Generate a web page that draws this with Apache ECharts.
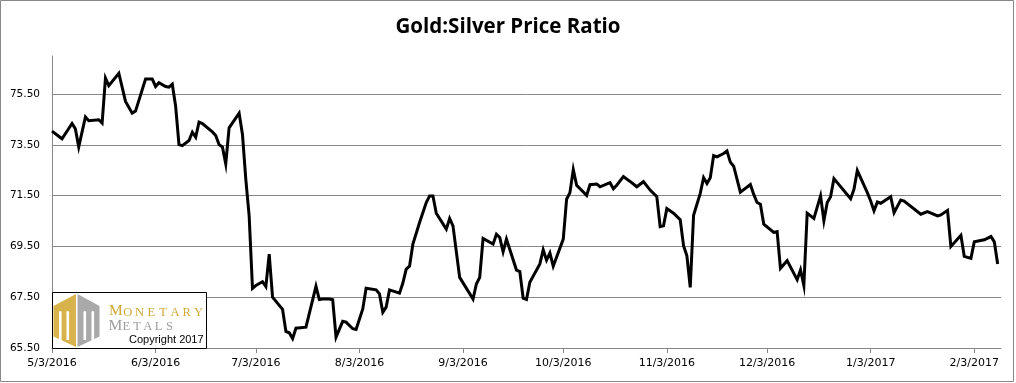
<!DOCTYPE html>
<html>
<head>
<meta charset="utf-8">
<script src="https://cdn.jsdelivr.net/npm/echarts@6/dist/echarts.min.js"></script>
<style>
html,body{margin:0;padding:0;background:#fff;}
#chart{width:1016px;height:383px;}
</style>
</head>
<body>
<div id="chart"></div>
<script>
// ---- data ----
const chartTitle = 'Gold:Silver Price Ratio';
const dates = [
 '2016-05-03','2016-05-05','2016-05-06','2016-05-09','2016-05-10','2016-05-11','2016-05-13','2016-05-14','2016-05-17','2016-05-18','2016-05-19','2016-05-20','2016-05-23','2016-05-25','2016-05-27','2016-05-28','2016-05-31',
 '2016-06-02','2016-06-03','2016-06-04','2016-06-06','2016-06-07','2016-06-08','2016-06-09','2016-06-10','2016-06-11','2016-06-13','2016-06-14','2016-06-15','2016-06-16','2016-06-17','2016-06-20','2016-06-21','2016-06-22','2016-06-23','2016-06-24','2016-06-25','2016-06-28','2016-06-29','2016-06-30',
 '2016-07-01','2016-07-02','2016-07-03','2016-07-05','2016-07-06','2016-07-07','2016-07-08','2016-07-11','2016-07-12','2016-07-13','2016-07-14','2016-07-15','2016-07-18','2016-07-21','2016-07-22','2016-07-23','2016-07-25','2016-07-26','2016-07-27','2016-07-29','2016-07-30',
 '2016-08-01','2016-08-02','2016-08-04','2016-08-05','2016-08-08','2016-08-09','2016-08-10','2016-08-11','2016-08-12','2016-08-15','2016-08-16','2016-08-17','2016-08-18','2016-08-19','2016-08-21','2016-08-23','2016-08-24','2016-08-25','2016-08-26','2016-08-29','2016-08-30','2016-08-31',
 '2016-09-02','2016-09-06','2016-09-07','2016-09-08','2016-09-09','2016-09-12','2016-09-13','2016-09-14','2016-09-15','2016-09-16','2016-09-19','2016-09-20','2016-09-21','2016-09-22','2016-09-23','2016-09-26','2016-09-27','2016-09-28','2016-09-29','2016-09-30',
 '2016-10-03','2016-10-04','2016-10-05','2016-10-06','2016-10-07','2016-10-10','2016-10-11','2016-10-13','2016-10-14','2016-10-17','2016-10-18','2016-10-19','2016-10-21','2016-10-23','2016-10-25','2016-10-27','2016-10-29','2016-10-31',
 '2016-11-01','2016-11-02','2016-11-03','2016-11-05','2016-11-07','2016-11-08','2016-11-09','2016-11-10','2016-11-11','2016-11-13','2016-11-14','2016-11-15','2016-11-16','2016-11-17','2016-11-18','2016-11-20','2016-11-21','2016-11-22','2016-11-23','2016-11-25','2016-11-28','2016-11-29','2016-11-30',
 '2016-12-01','2016-12-02','2016-12-05','2016-12-06','2016-12-07','2016-12-09','2016-12-12','2016-12-13','2016-12-14','2016-12-15','2016-12-17','2016-12-19','2016-12-20','2016-12-21','2016-12-22','2016-12-23','2016-12-28','2016-12-29','2016-12-30',
 '2017-01-02','2017-01-03','2017-01-04','2017-01-05','2017-01-06','2017-01-09','2017-01-10','2017-01-12','2017-01-13','2017-01-18','2017-01-20','2017-01-23','2017-01-24','2017-01-26','2017-01-27','2017-01-30','2017-01-31',
 '2017-02-02','2017-02-03','2017-02-06','2017-02-08','2017-02-09','2017-02-10'
];
const ratio = [
 74.04,73.84,73.74,74.34,74.13,73.42,74.60,74.45,74.49,74.36,76.13,75.83,76.32,75.21,74.75,74.83,76.09,
 76.09,75.80,75.95,75.80,75.77,75.89,75.02,73.51,73.47,73.67,74.00,73.80,74.40,74.34,74.01,73.87,73.51,73.42,72.75,74.17,74.75,73.91,72.14,
 70.70,67.85,67.96,68.11,67.92,69.20,67.50,67.02,66.15,66.10,65.87,66.28,66.32,67.93,67.41,67.43,67.43,67.40,65.93,66.55,66.52,
 66.26,66.23,67.04,67.85,67.79,67.63,66.91,67.11,67.79,67.66,68.06,68.61,68.72,69.59,70.44,71.23,71.49,71.49,70.81,70.18,70.60,70.31,
 68.28,67.43,68.02,68.28,69.81,69.59,69.98,69.85,69.29,69.79,68.57,68.51,67.46,67.41,68.09,68.81,69.37,68.96,69.24,68.72,
 69.79,71.36,71.62,72.53,71.91,71.51,71.93,71.96,71.85,72.01,71.77,71.91,72.25,72.06,71.85,72.05,71.72,71.46,
 70.28,70.31,70.99,70.81,70.55,69.53,69.13,67.89,70.73,71.59,72.21,71.98,72.21,73.08,73.03,73.16,73.26,72.82,72.66,71.64,71.94,71.55,71.23,
 71.16,70.38,70.05,70.08,68.64,68.94,68.19,68.58,67.96,70.81,70.60,71.49,70.51,71.23,71.46,72.17,71.38,71.75,72.49,
 71.62,71.29,70.90,71.25,71.20,71.46,70.83,71.33,71.29,70.77,70.87,70.70,70.74,70.92,69.50,69.94,69.11,
 69.03,69.68,69.76,69.89,69.68,68.81
];
const xTickLabels = ['5/3/2016','6/3/2016','7/3/2016','8/3/2016','9/3/2016','10/3/2016','11/3/2016','12/3/2016','1/3/2017','2/3/2017'];
const xStart = '2016-05-03';
const xEnd = '2017-02-11';
const yTickLabels = ['65.50','67.50','69.50','71.50','73.50','75.50'];
const yMin = 65.5, yMax = 77, yStep = 2;

// ---- helpers ----
function isoToTs(s){ const p = s.split('-').map(Number); return Date.UTC(p[0], p[1]-1, p[2]); }
function mdyToTs(s){ const p = s.split('/').map(Number); return Date.UTC(p[2], p[0]-1, p[1]); }
const tickTs = xTickLabels.map(mdyToTs);
const seriesData = dates.map((d,i)=>[isoToTs(d), ratio[i]]);

const GRID = '#878787';
const chart = echarts.init(document.getElementById('chart'), null, {renderer:'canvas'});

function spacedLetters(word, x0, advance, baseline, bigSize, smallSize, color){
  const els = [];
  for (let i=0;i<word.length;i++){
    els.push({type:'text', z:102, x: x0 + i*advance + advance/2, y: baseline,
      style:{text: word[i], fill: color, font: (i===0?bigSize:smallSize)+'px "Liberation Serif", serif',
        textAlign:'center', textVerticalAlign:'bottom'}});
  }
  return els;
}

const option = {
  animation:false,
  backgroundColor:'#fff',
  title:{text: chartTitle, left:'center', top:12,
    textStyle:{fontFamily:'"Open Sans", Lato, sans-serif', fontSize:20.5, fontWeight:'bold', color:'#000'}},
  grid:{left:52, right:15, top:56, bottom:35, containLabel:false},
  xAxis:{
    type:'value', min: isoToTs(xStart), max: isoToTs(xEnd),
    axisLine:{show:true, onZero:false, lineStyle:{color:GRID, width:1}},
    axisTick:{show:true, customValues: tickTs, length:5, lineStyle:{color:GRID}},
    axisLabel:{customValues: tickTs, margin:10, color:'#000', fontFamily:'"DejaVu Sans", Verdana, sans-serif', fontSize:11,
      formatter: v => { const i = tickTs.indexOf(v); return i>=0 ? xTickLabels[i] : ''; }},
    splitLine:{show:false}
  },
  yAxis:{
    type:'value', min:yMin, max:yMax, interval:yStep,
    axisLine:{show:true, onZero:false, lineStyle:{color:GRID, width:1}},
    axisTick:{show:false},
    axisLabel:{margin:12, color:'#000', fontFamily:'"DejaVu Sans", Verdana, sans-serif', fontSize:10.5,
      formatter: v => { const s = Number(v).toFixed(2); return yTickLabels.indexOf(s)>=0 ? s : ''; }},
    splitLine:{show:true, showMaxLine:false, lineStyle:{color:GRID, width:1}}
  },
  series:[{
    type:'line', data: seriesData, showSymbol:false, symbol:'none',
    lineStyle:{color:'#000', width:3, join:'miter'}, itemStyle:{color:'#000'}, z:5
  }],
  graphic:[
    {type:'rect', z:100, silent:true, shape:{x:0.5,y:0.5,width:1013,height:381}, style:{fill:'none', stroke:'#888', lineWidth:1}},
    {type:'rect', z:100, shape:{x:52.5,y:292.5,width:154,height:56}, style:{fill:'#fff', stroke:'#000', lineWidth:1}},
    {type:'polygon', z:101, shape:{points:[[76,294],[53.5,306],[53.5,336.5],[76,347]]}, style:{fill:'#D8B24A'}},
    {type:'polygon', z:101, shape:{points:[[77.5,294],[99.5,306],[99.5,336.5],[77.5,347]]}, style:{fill:'#A9A9A9'}},
    {type:'rect', z:102, shape:{x:59,y:311,width:2.6,height:29, r:[1.3,1.3,0,0]}, style:{fill:'#fff'}},
    {type:'rect', z:102, shape:{x:66.5,y:311,width:2.6,height:29, r:[1.3,1.3,0,0]}, style:{fill:'#fff'}},
    {type:'rect', z:102, shape:{x:83.5,y:311,width:2.6,height:29, r:[1.3,1.3,0,0]}, style:{fill:'#fff'}},
    {type:'rect', z:102, shape:{x:91.5,y:311,width:2.6,height:29, r:[1.3,1.3,0,0]}, style:{fill:'#fff'}},
    ...spacedLetters('MONETARY', 110, 11.8, 319, 15.5, 12.5, '#CFA838'),
    ...spacedLetters('METALS', 110, 10.8, 333.5, 15.5, 12.5, '#9E9E9E'),
    {type:'text', z:102, x:129, y:345, style:{text:'Copyright 2017', fill:'#000', font:'11px "Liberation Sans", Arial, sans-serif', textVerticalAlign:'bottom'}}
  ]
};
chart.setOption(option);
</script>
</body>
</html>
